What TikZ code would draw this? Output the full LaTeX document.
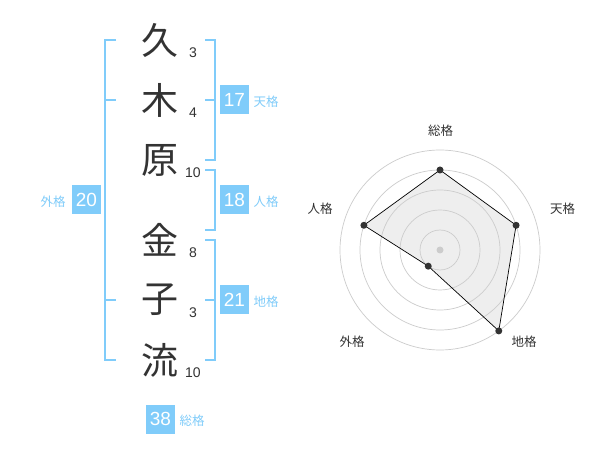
\documentclass[tikz,border=0pt]{standalone}
\usepackage{fontspec}
\setmainfont{Liberation Sans}
\newfontfamily\jpfont{Noto Sans CJK JP}
\usepackage{xcolor}
\usepackage{tikz}
\usetikzlibrary{calc}

\definecolor{kakublue}{RGB}{128,204,250}
\definecolor{inkgray}{RGB}{51,51,51}
\definecolor{ringgray}{RGB}{204,204,204}
\definecolor{webfill}{RGB}{238,238,238}

\tikzset{
  kanji/.style={inner sep=0pt,text=inkgray,font=\jpfont\fontsize{37}{37}\selectfont},
  strokes/.style={inner sep=0pt,text=inkgray,font=\fontsize{14}{14}\selectfont},
  kakubox/.style={fill=kakublue,text=white,minimum size=29pt,inner sep=0pt,font=\fontsize{19}{19}\selectfont},
  kakulabel/.style={inner sep=0pt,text=kakublue,font=\jpfont\fontsize{12.5}{12.5}\selectfont},
  bracket/.style={draw=kakublue,line width=2pt},
  ring/.style={draw=ringgray,line width=0.7pt},
  web/.style={draw=black,line width=0.7pt},
  dot/.style={circle,fill=inkgray,inner sep=0pt,minimum size=7pt},
  axislabel/.style={inner sep=0pt,text=inkgray,font=\jpfont\fontsize{12.5}{12.5}\selectfont}
}

\begin{document}
\begin{tikzpicture}[x=1pt,y=-1pt]
  \useasboundingbox[fill=white] (0,0) rectangle (600,470);

  \node[kanji] (k1) at (160,40) {久};
  \node[kanji] (k2) at (160,100) {木};
  \node[kanji] (k3) at (160,160) {原};
  \node[kanji] (k4) at (160,240) {金};
  \node[kanji] (k5) at (160,300) {子};
  \node[kanji] (k6) at (160,360) {流};

  \node[strokes] (s1) at (193,53) {3};
  \node[strokes] (s2) at (193,113) {4};
  \node[strokes] (s3) at (193,173) {10};
  \node[strokes] (s4) at (193,253) {8};
  \node[strokes] (s5) at (193,313) {3};
  \node[strokes] (s6) at (193,373) {10};

  \draw[bracket] (116,40) -- (105,40) -- (105,360) -- (116,360);
  \draw[bracket] (105,100) -- (116,100);
  \draw[bracket] (105,300) -- (116,300);
  \draw[bracket] (205,40) -- (215,40) -- (215,160) -- (205,160);
  \draw[bracket] (205,100) -- (215,100);
  \draw[bracket] (205,170) -- (215,170) -- (215,230) -- (205,230);
  \draw[bracket] (205,240) -- (215,240) -- (215,360) -- (205,360);
  \draw[bracket] (205,300) -- (215,300);

  \node[kakubox] (gaibox) at (86.5,200) {20};
  \node[kakulabel] (gailab) at (53,202) {外格};
  \node[kakubox] (tenbox) at (234.5,100) {17};
  \node[kakulabel] (tenlab) at (266,102) {天格};
  \node[kakubox] (jinbox) at (234.5,200) {18};
  \node[kakulabel] (jinlab) at (266,202) {人格};
  \node[kakubox] (chibox) at (234.5,300) {21};
  \node[kakulabel] (chilab) at (266,302) {地格};
  \node[kakubox] (soubox) at (160.5,419) {38};
  \node[kakulabel] (soulab) at (192,421) {総格};

  \coordinate (hub) at (440,250);
  \path (hub) ++(-90:80) coordinate (sou);
  \path (hub) ++(-18:80) coordinate (ten);
  \path (hub) ++(54:100) coordinate (chi);
  \path (hub) ++(126:20) coordinate (gai);
  \path (hub) ++(198:80) coordinate (jin);
  \fill[webfill] (sou) -- (ten) -- (chi) -- (gai) -- (jin) -- cycle;
  \foreach \r in {20,40,60,80,100}
    \draw[ring] (hub) circle (\r);
  \node[circle,fill=ringgray,inner sep=0pt,minimum size=7pt] (hubdot) at (hub) {};
  \draw[web] (sou) -- (ten) -- (chi) -- (gai) -- (jin) -- cycle;
  \foreach \p in {sou,ten,chi,gai,jin}
    \node[dot] (dot-\p) at (\p) {};

  \node[axislabel] (l-sou) at (440.5,130.5) {総格};
  \node[axislabel] (l-ten) at (562.5,209) {天格};
  \node[axislabel] (l-chi) at (524,342) {地格};
  \node[axislabel] (l-gai) at (352,342) {外格};
  \node[axislabel] (l-jin) at (320,209) {人格};
\end{tikzpicture}
\end{document}
